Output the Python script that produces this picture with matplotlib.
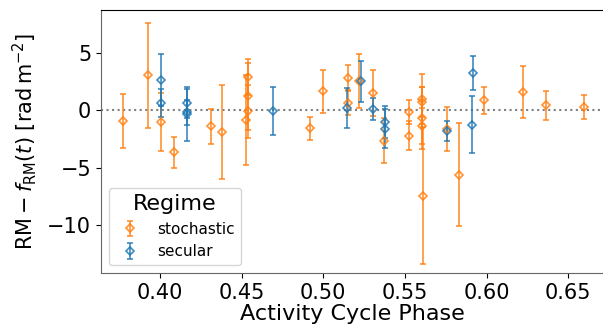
import numpy as np
import matplotlib
matplotlib.use("Agg")
import matplotlib.pyplot as plt

# stochastic regime: phase, residual RM, error
sto_x = [0.3775, 0.3928, 0.4006, 0.4088, 0.4312, 0.4381, 0.4537, 0.4537, 0.4537, 0.4530,
         0.4918, 0.5000, 0.5153, 0.5153, 0.5219, 0.5306, 0.5371, 0.5524, 0.5524, 0.5606,
         0.5606, 0.5606, 0.5606, 0.5610, 0.5759, 0.5833, 0.5985, 0.6220, 0.6365, 0.6595]
sto_y = [-0.94, 3.07, -1.00, -3.65, -1.40, -1.90, 2.92, 1.23, -0.09, -0.82,
         -1.55, 1.67, 2.84, 0.67, 2.57, 1.55, -2.63, -0.15, -2.19, 1.02,
         0.73, -0.64, -1.37, -7.43, -1.60, -5.61, 0.88, 1.61, 0.44, 0.29]
sto_e = [2.35, 4.6, 2.5, 1.35, 1.53, 4.1, 1.6, 2.9, 2.3, 3.95,
         1.0, 1.85, 1.1, 1.1, 2.35, 2.0, 2.0, 1.05, 1.27, 2.2,
         1.3, 2.7, 1.55, 6.0, 1.9, 4.5, 1.2, 2.3, 1.3, 1.08]

# secular regime
sec_x = [0.4010, 0.4010, 0.4165, 0.4165, 0.4165, 0.4694, 0.5146, 0.5230, 0.5302, 0.5381,
         0.5381, 0.5759, 0.5914, 0.5910]
sec_y = [2.69, 0.67, 0.64, -0.15, -0.29, -0.06, 0.20, 2.54, 0.15, -1.02,
         -1.61, -1.80, 3.30, -1.23]
sec_e = [2.28, 1.2, 1.26, 1.1, 2.34, 2.1, 1.75, 1.8, 0.95, 1.4,
         1.7, 0.9, 1.48, 2.5]

fig = plt.figure(figsize=(6.03, 3.35), dpi=100)
ax = fig.add_axes([0.1675, 0.185, 0.8345, 0.785])

kw = dict(fmt="D", ms=4.2, mfc="none", mew=1.2, capsize=2, elinewidth=1.2, alpha=0.85)
ax.errorbar(sto_x, sto_y, yerr=sto_e, color="#ff7f0e", label="stochastic", **kw)
ax.errorbar(sec_x, sec_y, yerr=sec_e, color="#1f77b4", label="secular", **kw)
ax.axhline(0, ls=":", color="grey", lw=1.5, zorder=0)

ax.set_xlim(0.364, 0.672)
ax.set_ylim(-14.2, 8.77)
ax.set_xticks([0.40, 0.45, 0.50, 0.55, 0.60, 0.65])
ax.set_yticks([-10, -5, 0, 5])
ax.tick_params(labelsize=15)
ax.set_xlabel("Activity Cycle Phase", fontsize=16, labelpad=1)
ax.set_ylabel(r"$\mathrm{RM} - f_\mathrm{RM}(t)$ [rad$\,$m$^{-2}$]", fontsize=15, labelpad=6)
for s in ["left", "bottom"]:
    ax.spines[s].set_color("#666666")
ax.spines["right"].set_visible(False)

leg = ax.legend(title="Regime", loc="lower left", fontsize=11, title_fontsize=16,
                borderaxespad=0.5)

fig.savefig("out.png", dpi=100)
